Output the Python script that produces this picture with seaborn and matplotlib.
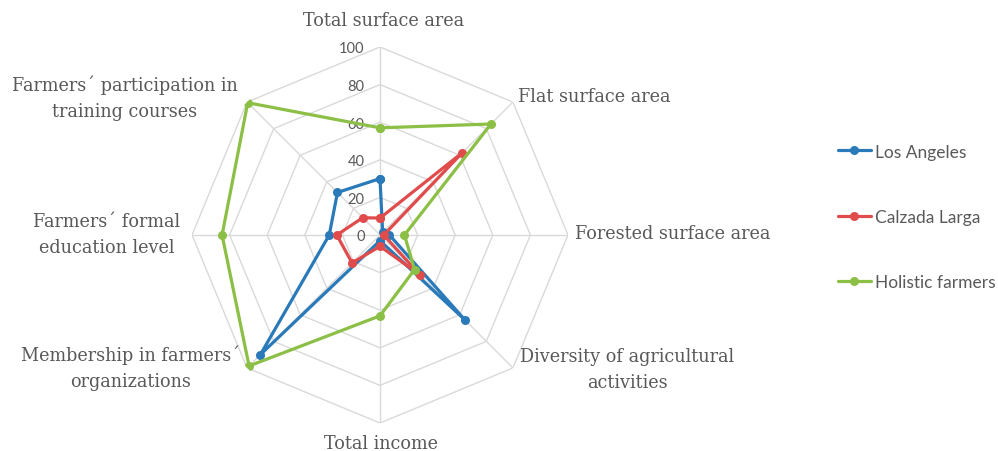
import numpy as np
import pandas as pd
import matplotlib
matplotlib.use("Agg")
import matplotlib.pyplot as plt
import seaborn as sns
from matplotlib.lines import Line2D
from matplotlib.transforms import offset_copy

# Indicators (clockwise from the top)
categories = [
    "Total surface area",
    "Flat surface area",
    "Forested surface area",
    "Diversity of agricultural\nactivities",
    "Total income",
    "Membership in farmers´\norganizations",
    "Farmers´ formal\neducation level",
    "Farmers´ participation in\ntraining courses",
]
series_names = ["Los Angeles", "Calzada Larga", "Holistic farmers"]
los_angeles = [30, 2, 5, 64, 3, 90, 27, 32]
calzada_larga = [9, 62, 2, 30, 6, 21, 23, 13]
holistic_farmers = [57, 83.5, 13, 26, 43, 98.5, 84, 99.5]
ring_ticks = [0, 20, 40, 60, 80, 100]

colors = ["#2a7ab9", "#e04b4b", "#8cbf45"]
grid_color = "#d9d9d9"
text_color = "#595959"

sns.set_theme(style="white")

W, H = 998, 452
fig = plt.figure(figsize=(W / 100, H / 100), dpi=100)

cx, cy, R = 380, 236, 188
ax = fig.add_axes([(cx - R) / W, (H - cy - R) / H, 2 * R / W, 2 * R / H],
                  projection="polar")
ax.set_theta_zero_location("N")
ax.set_theta_direction(-1)
ax.set_ylim(0, 100)
ax.grid(False)
ax.spines["polar"].set_visible(False)
ax.set_xticks([])
ax.set_yticks([])
ax.patch.set_alpha(0)

n = len(categories)
theta = np.arange(n) * 2 * np.pi / n
theta_closed = np.append(theta, 2 * np.pi)

# Octagonal rings and spokes
for v in ring_ticks[1:]:
    ax.plot(theta_closed, [v] * (n + 1), color=grid_color, lw=1.0, zorder=1)
for t in theta:
    ax.plot([t, t], [0, 100], color=grid_color, lw=1.0, zorder=1)

# Ring value labels along the top spoke
lab_tr = offset_copy(ax.transData, fig=fig, x=-11, y=-1, units="points")
for v in ring_ticks:
    ax.text(0, v, str(v), transform=lab_tr, ha="right", va="center",
            fontsize=10.5, color=text_color, family="Lato", zorder=2)

# Long-form data, each loop closed back to its first indicator
frames = []
for name, vals in zip(series_names, [los_angeles, calzada_larga, holistic_farmers]):
    frames.append(pd.DataFrame({
        "theta": theta_closed,
        "value": list(vals) + [vals[0]],
        "series": name,
    }))
df = pd.concat(frames, ignore_index=True)

sns.lineplot(data=df, x="theta", y="value", hue="series", hue_order=series_names,
             palette=colors, sort=False, estimator=None, marker="o",
             markersize=6.5, markeredgewidth=0, linewidth=2.3, legend=False,
             ax=ax, zorder=3)
ax.set_xlabel("")
ax.set_ylabel("")
ax.set_ylim(0, 100)

# Indicator labels
label_pos = [
    (384, 21, "center"),
    (518, 97, "left"),
    (575, 234, "left"),
    (627, 370, "center"),
    (381, 444, "center"),
    (131, 368, "center"),
    (107, 235, "center"),
    (125, 98, "center"),
]
for text, (x, y, ha) in zip(categories, label_pos):
    fig.text(x / W, 1 - y / H, text, ha=ha, va="center", multialignment="center",
             fontsize=12.7, color=text_color, family="DejaVu Serif",
             linespacing=1.6)

handles = [Line2D([0], [0], color=c, lw=2.3, marker="o", markersize=6.5,
                  markeredgewidth=0) for c in colors]
leg = fig.legend(handles, series_names, loc="center left",
                 bbox_to_anchor=(838 / W, 1 - 218 / H), frameon=False,
                 handlelength=1.9, handletextpad=0.25, labelspacing=2.85,
                 borderpad=0.0, borderaxespad=0.0,
                 prop={"family": "Lato", "size": 12.5})
for t in leg.get_texts():
    t.set_color(text_color)

fig.savefig("out.png", dpi=100)
